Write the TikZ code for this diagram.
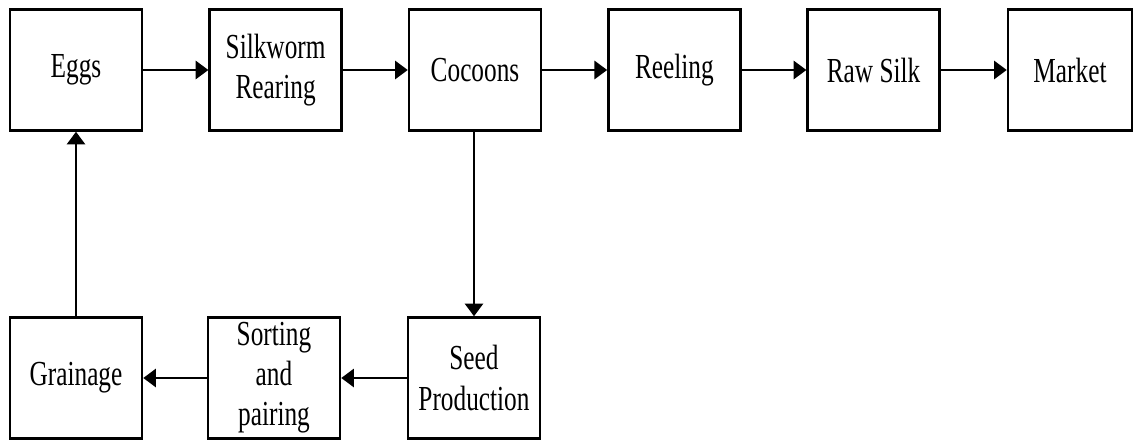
\documentclass[tikz,border=0pt]{standalone}
\usepackage{fontspec}
\setmainfont{Liberation Serif}[FakeStretch=0.72]
\usetikzlibrary{arrows.meta}
\tikzset{>={Triangle[length=9pt, width=13pt]}}

\begin{document}
\begin{tikzpicture}[
	stage/.style={draw, line width=1.8pt, minimum width=3.3cm, minimum height=3.025cm,
		align=center, inner sep=0pt, font=\fontsize{25}{28.5}\selectfont},
	flow/.style={->, line width=1.4pt}]
	\useasboundingbox (0,0) rectangle (28.325,-11);
	% top row
	\node [stage] (eggs) at (1.9,-1.75) {Eggs};
	\node [stage] (rearing) at (6.89,-1.75) {Silkworm\\Rearing};
	\node [stage] (cocoons) at (11.875,-1.75) {Cocoons};
	\node [stage] (reeling) at (16.86,-1.75) {Reeling};
	\node [stage] (rawsilk) at (21.84,-1.75) {Raw Silk};
	\node [stage, minimum width=3.1cm] (market) at (26.75,-1.75) {Market};
	% bottom row
	\node [stage] (grainage) at (1.9,-9.45) {Grainage};
	\node [stage] (sorting) at (6.85,-9.45) {Sorting\\and\\pairing};
	\node [stage] (seed) at (11.85,-9.45) {Seed\\Production};
	\draw [flow] (eggs) -- (rearing);
	\draw [flow] (rearing) -- (cocoons);
	\draw [flow] (cocoons) -- (reeling);
	\draw [flow] (reeling) -- (rawsilk);
	\draw [flow] (rawsilk) -- (market);
	\draw [flow] (cocoons.south -| seed.north) -- (seed);
	\draw [flow] (seed) -- (sorting);
	\draw [flow] (sorting) -- (grainage);
	\draw [flow] (grainage) -- (eggs);
\end{tikzpicture}
\end{document}
